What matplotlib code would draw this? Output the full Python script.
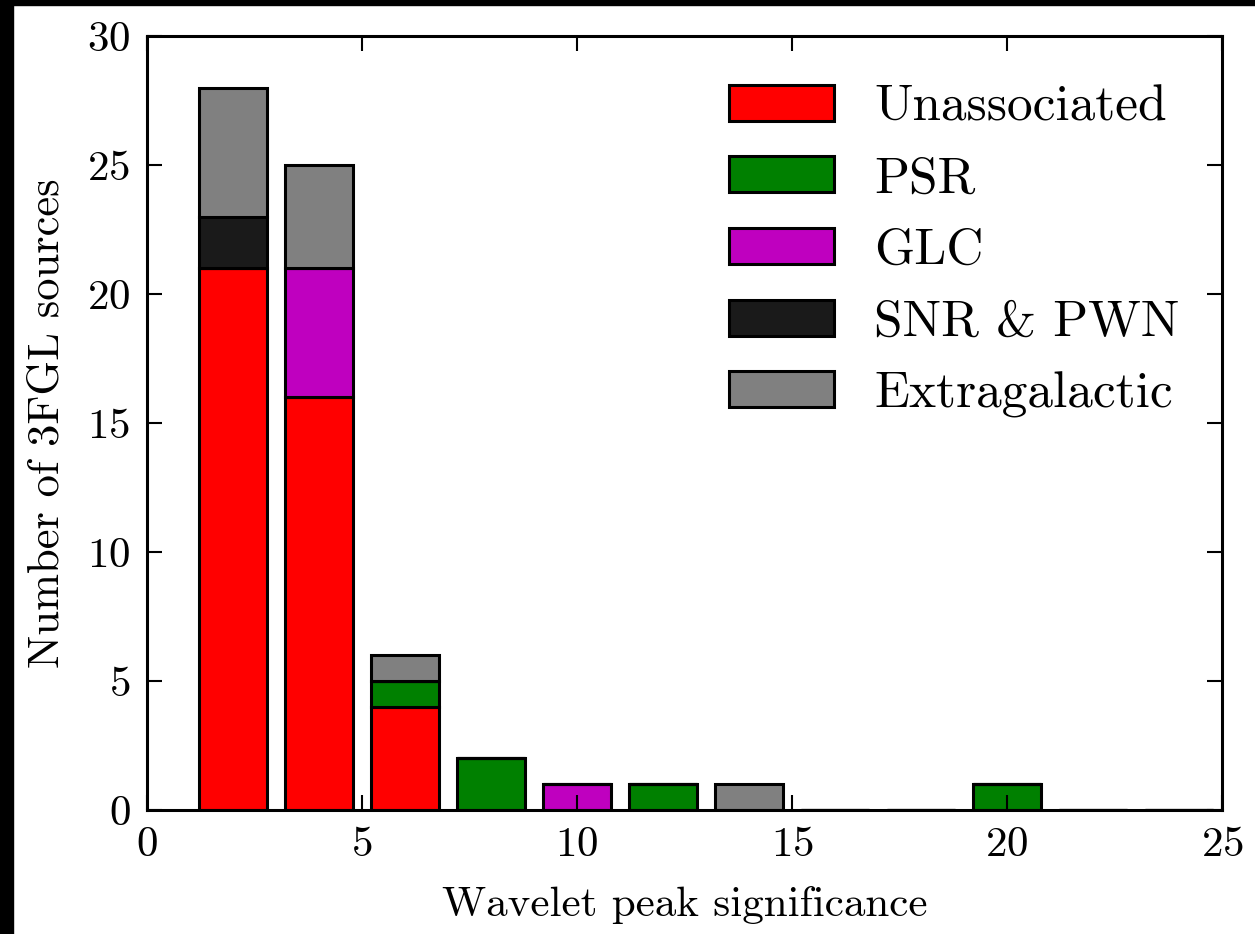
from matplotlib import pyplot as plt
from matplotlib.patches import Rectangle
import numpy as np

plt.rcParams['font.family'] = ['cmr10', 'DejaVu Serif']
plt.rcParams['mathtext.fontset'] = 'cm'
plt.rcParams['axes.formatter.use_mathtext'] = True

# histogram bins (wavelet peak significance)
bin_edges = [1, 3, 5, 7, 9, 11, 13, 15, 17, 19, 21, 23, 25]
bin_centers = [2, 4, 6, 8, 10, 12, 14, 16, 18, 20, 22, 24]

# counts per bin, one list per source class
unassociated = [21, 16, 4, 0, 0, 0, 0, 0, 0, 0, 0, 0]
psr = [0, 0, 1, 2, 0, 1, 0, 0, 0, 1, 0, 0]
glc = [0, 5, 0, 0, 1, 0, 0, 0, 0, 0, 0, 0]
snr_pwn = [2, 0, 0, 0, 0, 0, 0, 0, 0, 0, 0, 0]
extragalactic = [5, 4, 1, 0, 0, 0, 1, 0, 0, 0, 0, 0]

labels = ['Unassociated', 'PSR', 'GLC', 'SNR & PWN', 'Extragalactic']
colors = [(1, 0, 0), (0, 0.5, 0), (0.75, 0, 0.75), '0.1', '0.5']

fig = plt.figure(figsize=(12.55, 9.34), dpi=100)
ax = fig.add_axes([0.1171, 0.1328, 0.8566, 0.8287])

# black strips at top/left edge as in the original export
fig.patches.append(Rectangle((0, 0), 12.5 / 1255, 1, transform=fig.transFigure,
                             color='k', zorder=10))
fig.patches.append(Rectangle((0, 1 - 5 / 934), 1, 5 / 934, transform=fig.transFigure,
                             color='k', zorder=10))

ax.hist([bin_centers] * 5, bins=bin_edges,
        weights=[unassociated, psr, glc, snr_pwn, extragalactic],
        stacked=True, rwidth=0.8, color=colors, label=labels,
        edgecolor='k', linewidth=2.2)

ax.set_xlim(0, 25)
ax.set_ylim(0, 30)
ax.set_xticks([0, 5, 10, 15, 20, 25])
ax.set_yticks([0, 5, 10, 15, 20, 25, 30])
ax.tick_params(direction='in', top=True, right=True, length=11, width=1.5,
               labelsize=31, pad=12)
for s in ax.spines.values():
    s.set_linewidth(2.2)
    s.set_zorder(5)
ax.set_axisbelow(False)

ax.set_xlabel('Wavelet peak significance', fontsize=31, labelpad=16)
ax.set_ylabel('Number of 3FGL sources', fontsize=32, labelpad=14)

leg = ax.legend(loc='upper right', bbox_to_anchor=(1.006, 1.0), frameon=False,
                fontsize=37, handlelength=2.04, handleheight=0.7,
                labelspacing=0.5, handletextpad=0.78, borderaxespad=0.55)

fig.savefig('out.png', dpi=100)
